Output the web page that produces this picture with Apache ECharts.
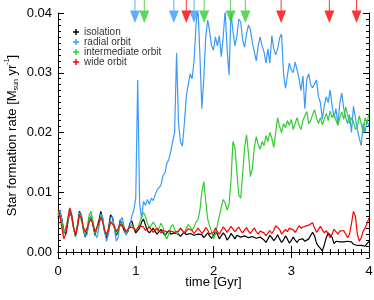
<!DOCTYPE html>
<html><head><meta charset="utf-8">
<script src="https://cdn.jsdelivr.net/npm/echarts@6/dist/echarts.min.js"></script>
<style>html,body{margin:0;padding:0;background:#fff}#c{width:374px;height:300px}</style>
</head><body><div id="c"></div>
<script>
const seriesNames = ['isolation', 'radial orbit', 'intermediate orbit', 'wide orbit'];
const seriesColors = ['#000000', '#3a9bf7', '#33cc33', '#ff0000'];
const xTicks = [0, 1, 2, 3, 4];
const yTicks = [0, 0.01, 0.02, 0.03, 0.04];

// time grid, 0.025 Gyr steps from 0 to 4 Gyr
const times = [];
for (let i = 0; i <= 160; i++) times.push(+(i * 0.025).toFixed(3));

const isolation = [
0.0058,0.0068,0.0055,0.0035,0.0030,0.0048,0.0066,0.0060,0.0040,0.0027,
0.0045,0.0068,0.0062,0.0038,0.0025,0.0035,0.0055,0.0060,0.0045,0.0028,
0.0030,0.0052,0.0068,0.0055,0.0033,0.0024,0.0040,0.0062,0.0058,0.0040,
0.0028,0.0035,0.0054,0.0052,0.0036,0.0030,0.0035,0.0048,0.0052,0.0040,
0.0032,0.0034,0.0040,0.0050,0.0055,0.0045,0.0036,0.0032,0.0036,0.0040,
0.0034,0.0030,0.0034,0.0038,0.0033,0.0028,0.0032,0.0036,0.0030,0.0027,
0.0032,0.0035,0.0030,0.0026,0.0030,0.0034,0.0029,0.0026,0.0031,0.0034,
0.0028,0.0025,0.0030,0.0033,0.0029,0.0024,0.0028,0.0032,0.0027,0.0023,
0.0028,0.0034,0.0030,0.0022,0.0025,0.0032,0.0028,0.0020,0.0024,0.0031,
0.0027,0.0022,0.0028,0.0030,0.0025,0.0022,0.0027,0.0029,0.0024,0.0021,
0.0026,0.0028,0.0023,0.0020,0.0025,0.0027,0.0020,0.0016,0.0022,0.0028,
0.0024,0.0019,0.0023,0.0029,0.0022,0.0016,0.0020,0.0027,0.0022,0.0015,
0.0019,0.0025,0.0020,0.0016,0.0021,0.0019,0.0022,0.0018,0.0020,0.0022,
0.0028,0.0033,0.0027,0.0015,0.0010,0.0006,0.0002,0.0012,0.0024,0.0032,
0.0035,0.0025,0.0014,0.0018,0.0020,0.0017,0.0019,0.0017,0.0016,0.0018,
0.0019,0.0017,0.0013,0.0010,0.0011,0.0013,0.0011,0.0009,0.0010,0.0014,
0.0018];

const radial = [
0.0062,0.0070,0.0052,0.0030,0.0028,0.0050,0.0074,0.0065,0.0042,0.0025,
0.0040,0.0066,0.0062,0.0040,0.0026,0.0030,0.0050,0.0062,0.0050,0.0030,
0.0024,0.0040,0.0064,0.0058,0.0034,0.0018,0.0030,0.0056,0.0060,0.0040,
0.0018,0.0025,0.0052,0.0058,0.0042,0.0028,0.0030,0.0045,0.0060,0.0070,
0.0090,0.0288,0.0082,0.0055,0.0085,0.0078,0.0088,0.0080,0.0090,0.0086,
0.0096,0.0104,0.0102,0.0112,0.0128,0.0132,0.0148,0.0155,0.0168,0.0185,
0.0200,0.0333,0.0215,0.0185,0.0177,0.0215,0.0260,0.0280,0.0298,0.0290,
0.0320,0.0380,0.0410,0.0330,0.0240,0.0290,0.0360,0.0388,0.0370,0.0345,
0.0338,0.0360,0.0345,0.0362,0.0327,0.0360,0.0405,0.0340,0.0296,0.0400,
0.0370,0.0345,0.0360,0.0390,0.0385,0.0355,0.0343,0.0365,0.0380,0.0372,
0.0350,0.0335,0.0320,0.0345,0.0360,0.0345,0.0335,0.0316,0.0340,0.0316,
0.0362,0.0340,0.0330,0.0340,0.0358,0.0365,0.0300,0.0274,0.0295,0.0316,
0.0305,0.0300,0.0318,0.0305,0.0290,0.0270,0.0295,0.0240,0.0290,0.0298,
0.0280,0.0275,0.0277,0.0288,0.0260,0.0250,0.0222,0.0245,0.0260,0.0250,
0.0271,0.0245,0.0225,0.0240,0.0212,0.0250,0.0266,0.0240,0.0225,0.0215,
0.0230,0.0200,0.0244,0.0225,0.0205,0.0190,0.0178,0.0215,0.0200,0.0220,
0.0210];

const intermediate = [
0.0065,0.0066,0.0050,0.0032,0.0030,0.0052,0.0070,0.0060,0.0040,0.0028,
0.0042,0.0062,0.0060,0.0042,0.0030,0.0040,0.0062,0.0068,0.0050,0.0032,
0.0030,0.0045,0.0060,0.0052,0.0035,0.0028,0.0038,0.0052,0.0055,0.0042,
0.0030,0.0032,0.0045,0.0050,0.0040,0.0033,0.0034,0.0042,0.0046,0.0040,
0.0036,0.0040,0.0050,0.0058,0.0066,0.0060,0.0048,0.0040,0.0042,0.0050,
0.0045,0.0035,0.0040,0.0048,0.0042,0.0028,0.0022,0.0030,0.0042,0.0046,
0.0038,0.0030,0.0034,0.0040,0.0036,0.0032,0.0040,0.0046,0.0042,0.0036,
0.0042,0.0050,0.0054,0.0070,0.0100,0.0118,0.0085,0.0055,0.0044,0.0035,
0.0022,0.0030,0.0045,0.0060,0.0075,0.0088,0.0082,0.0070,0.0080,0.0120,
0.0185,0.0175,0.0135,0.0095,0.0090,0.0130,0.0175,0.0196,0.0165,0.0126,
0.0140,0.0175,0.0193,0.0180,0.0172,0.0185,0.0178,0.0195,0.0185,0.0200,
0.0190,0.0175,0.0200,0.0225,0.0210,0.0200,0.0215,0.0208,0.0220,0.0212,
0.0222,0.0205,0.0215,0.0225,0.0212,0.0205,0.0220,0.0228,0.0235,0.0215,
0.0220,0.0230,0.0238,0.0225,0.0215,0.0225,0.0213,0.0222,0.0232,0.0220,
0.0236,0.0225,0.0232,0.0220,0.0212,0.0225,0.0235,0.0222,0.0243,0.0230,
0.0215,0.0225,0.0218,0.0205,0.0210,0.0228,0.0215,0.0200,0.0225,0.0215,
0.0232];

const wide = [
0.0071,0.0060,0.0040,0.0022,0.0030,0.0055,0.0073,0.0062,0.0042,0.0028,
0.0042,0.0062,0.0058,0.0042,0.0034,0.0040,0.0050,0.0055,0.0046,0.0034,
0.0036,0.0048,0.0058,0.0050,0.0036,0.0030,0.0036,0.0050,0.0053,0.0044,
0.0034,0.0036,0.0046,0.0048,0.0040,0.0034,0.0036,0.0042,0.0044,0.0040,
0.0036,0.0040,0.0044,0.0045,0.0042,0.0036,0.0038,0.0042,0.0038,0.0033,
0.0036,0.0040,0.0036,0.0032,0.0036,0.0038,0.0034,0.0032,0.0035,0.0038,
0.0033,0.0030,0.0035,0.0040,0.0036,0.0031,0.0034,0.0039,0.0042,0.0036,
0.0031,0.0034,0.0040,0.0036,0.0031,0.0035,0.0041,0.0037,0.0030,0.0027,
0.0033,0.0040,0.0034,0.0030,0.0036,0.0042,0.0038,0.0033,0.0038,0.0043,
0.0040,0.0034,0.0038,0.0042,0.0036,0.0032,0.0037,0.0041,0.0035,0.0031,
0.0036,0.0040,0.0034,0.0030,0.0035,0.0038,0.0032,0.0027,0.0030,0.0036,
0.0031,0.0036,0.0044,0.0047,0.0038,0.0030,0.0033,0.0038,0.0034,0.0040,
0.0043,0.0037,0.0033,0.0038,0.0044,0.0040,0.0038,0.0043,0.0040,0.0045,
0.0048,0.0049,0.0040,0.0033,0.0038,0.0043,0.0037,0.0032,0.0036,0.0030,
0.0024,0.0030,0.0038,0.0034,0.0030,0.0035,0.0038,0.0036,0.0030,0.0024,
0.0030,0.0048,0.0068,0.0060,0.0030,0.0018,0.0024,0.0035,0.0040,0.0048,
0.0057];

// pericentre arrows along the top edge (time in Gyr)
const radialMarks = [0.99, 1.49, 1.75];
const intermediateMarks = [1.11, 1.88, 2.22, 2.41];
const wideMarks = [1.65, 2.87, 3.49, 3.84];

const seriesValues = [isolation, radial, intermediate, wide];
const markTimes = [null, radialMarks, intermediateMarks, wideMarks];

const yMin = -0.001, yMax = 0.04;
const yMinor = [];
for (let k = -1; k <= 40; k++) yMinor.push(+(k / 1000).toFixed(3));

const FONT = '"Liberation Sans", Arial, Helvetica, sans-serif';
const plusIcon = 'path://M1.9,0H3.1V1.9H5V3.1H3.1V5H1.9V3.1H0V1.9H1.9Z';
const pinPath = 'path://M4.5,0L5.5,0L5.5,10.5L10,10.5L5,23L0,10.5L4.5,10.5Z';

const axLine = { show: true, lineStyle: { color: '#000', width: 1 } };
const xCommon = {
  type: 'value', min: 0, max: 4, interval: 1,
  splitLine: { show: false },
  axisLine: axLine,
  axisTick: { show: true, inside: true, length: 6, lineStyle: { color: '#000' } },
  minorTick: { show: true, splitNumber: 10, length: 3, lineStyle: { color: '#000' } },
  minorSplitLine: { show: false }
};
const yCommon = { type: 'value', min: yMin, max: yMax, splitLine: { show: false } };

const series = [];
seriesNames.forEach((n, i) => {
  series.push({
    type: 'line', name: n,
    data: times.map((t, j) => [t, seriesValues[i][j]]),
    showSymbol: false, symbol: 'none',
    lineStyle: { width: 1.2, color: seriesColors[i] },
    itemStyle: { color: seriesColors[i] },
    clip: true, z: 2 + i
  });
});
[1, 2, 3].forEach(i => {
  series.push({
    type: 'scatter', name: seriesNames[i] + ' pericentre',
    data: markTimes[i].map(t => [t, yMax]),
    symbol: pinPath, symbolSize: [10, 23], symbolOffset: [0, -1.5],
    itemStyle: { color: seriesColors[i] },
    clip: false, silent: true, z: 10
  });
});

const chart = echarts.init(document.getElementById('c'), null, { renderer: 'canvas' });
chart.setOption({
  animation: false,
  backgroundColor: '#fff',
  textStyle: { fontFamily: FONT },
  grid: { left: 58, right: 5, top: 13, bottom: 42, outerBoundsMode: 'none', containLabel: false },
  legend: {
    data: seriesNames.map(n => ({ name: n, icon: plusIcon })),
    orient: 'vertical', left: 68, top: 22,
    itemWidth: 6, itemHeight: 6, itemGap: 0,
    selectedMode: false,
    textStyle: { fontSize: 10, color: '#333', lineHeight: 10, fontFamily: FONT }
  },
  xAxis: [
    Object.assign({}, xCommon, {
      position: 'bottom',
      axisLabel: { show: true, fontSize: 13, color: '#000', margin: 7, fontFamily: FONT,
        customValues: xTicks },
      name: 'time [Gyr]', nameLocation: 'middle', nameGap: 18, nameMoveOverlap: false,
      nameTextStyle: { fontSize: 13, color: '#000', fontFamily: FONT }
    }),
    Object.assign({}, xCommon, { position: 'top', axisLabel: { show: false } })
  ],
  yAxis: [
    Object.assign({}, yCommon, {
      position: 'left', axisLine: axLine,
      axisTick: { show: true, inside: true, length: 6, customValues: yTicks, lineStyle: { color: '#000' } },
      axisLabel: { show: true, customValues: yTicks, formatter: v => v.toFixed(2),
        fontSize: 13, color: '#000', margin: 6, fontFamily: FONT },
      name: 'Star formation rate [M{sub|sun} yr{sup|-1}]',
      nameLocation: 'middle', nameGap: 38, nameRotate: 90, nameMoveOverlap: false,
      nameTextStyle: { fontSize: 13, color: '#000', fontFamily: FONT, lineHeight: 16,
        rich: {
          sub: { fontSize: 7, verticalAlign: 'bottom', lineHeight: 16, fontFamily: FONT, color: '#000' },
          sup: { fontSize: 7, verticalAlign: 'top', lineHeight: 16, fontFamily: FONT, color: '#000' }
        } }
    }),
    Object.assign({}, yCommon, {
      position: 'left', axisLine: { show: false },
      axisTick: { show: true, inside: true, length: 3, customValues: yMinor, lineStyle: { color: '#000' } },
      axisLabel: { show: false }
    }),
    Object.assign({}, yCommon, {
      position: 'right', axisLine: axLine,
      axisTick: { show: true, inside: true, length: 6, customValues: yTicks, lineStyle: { color: '#000' } },
      axisLabel: { show: false }
    }),
    Object.assign({}, yCommon, {
      position: 'right', axisLine: { show: false },
      axisTick: { show: true, inside: true, length: 3, customValues: yMinor, lineStyle: { color: '#000' } },
      axisLabel: { show: false }
    })
  ],
  series: series
});
</script>
</body></html>
